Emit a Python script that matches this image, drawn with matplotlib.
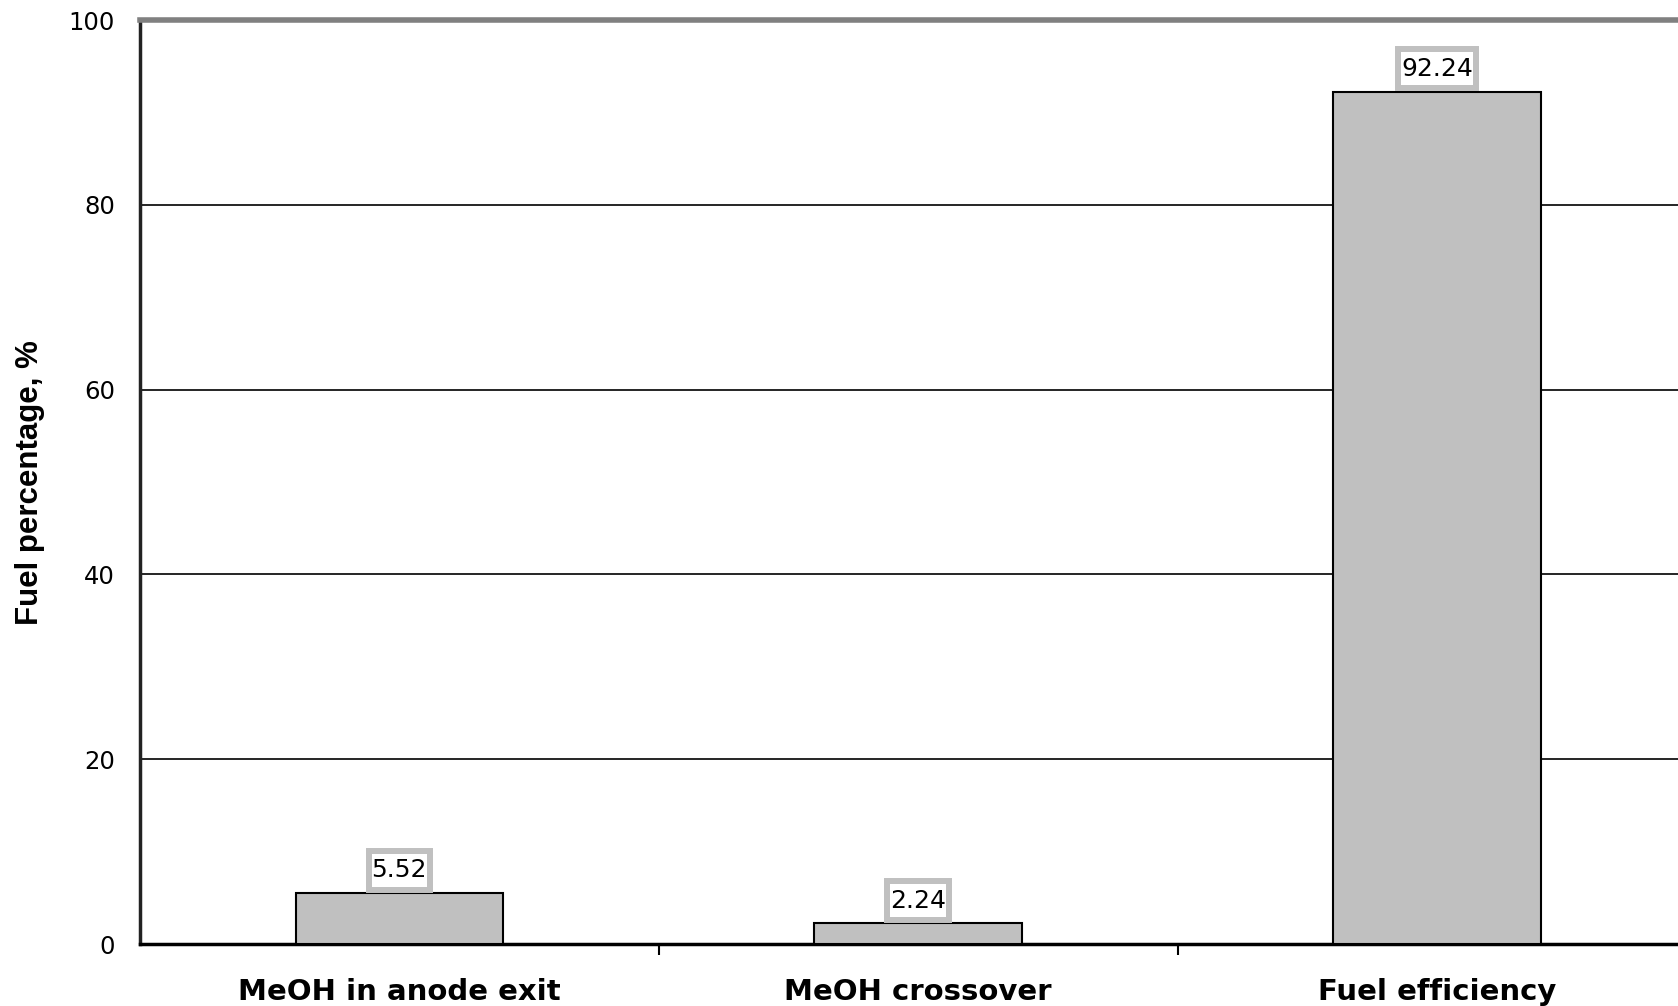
from matplotlib import pyplot as plt
from matplotlib.path import Path
import numpy as np

categories = ['MeOH in anode exit', 'MeOH crossover', 'Fuel efficiency']
values = [5.52, 2.24, 92.24]
value_labels = ['5.52', '2.24', '92.24']
y_ticks = [0, 20, 40, 60, 80, 100]

plt.rcParams['font.family'] = ['DejaVu Sans']


def label_box(x0, y0, width, height, mutation_size):
    # narrow side padding, taller top/bottom padding like the original labels
    px = 0.12 * mutation_size
    py = 0.3 * mutation_size
    x0, y0 = x0 - px, y0 - py
    x1, y1 = x0 + width + 2 * px, y0 + height + 2 * py
    return Path([(x0, y0), (x1, y0), (x1, y1), (x0, y1), (x0, y0)], closed=True)


fig = plt.figure(figsize=(16.78, 10.06), dpi=100)
ax = fig.add_axes([0.0834, 0.0616, 1.011 - 0.0834, 0.980 - 0.0616])

x = np.arange(len(categories))
ax.bar(x, values, width=0.4, color='#c0c0c0', edgecolor='black', linewidth=1.5, zorder=3)

# value labels in grey-framed boxes sitting on the bar tops
for xi, v, lab in zip(x, values, value_labels):
    ax.annotate(lab, (xi, v), xytext=(0, 7.8), textcoords='offset points',
                ha='center', va='bottom', fontsize=18, zorder=4,
                bbox=dict(boxstyle=label_box, facecolor='white',
                          edgecolor='#c0c0c0', linewidth=4.3))

ax.set_xlim(-0.5, 2.5)
ax.set_ylim(0, 100)
ax.set_yticks(y_ticks)
ax.tick_params(axis='y', length=0, labelsize=17.5, pad=18)
ax.yaxis.grid(True, color='black', linewidth=1.2, zorder=0)

# x ticks sit between categories, labels centred under bars
ax.set_xticks([0.5, 1.5])
ax.set_xticklabels([])
ax.tick_params(axis='x', length=8, width=1.5, direction='out', color='black')
for xi, cat in zip(x, categories):
    ax.text(xi, -6.05, cat, ha='center', va='baseline', fontsize=21, fontweight='bold',
            clip_on=False)

ax.set_ylabel('Fuel percentage, %', fontsize=22.5, fontweight='bold',
              family=['Liberation Sans', 'DejaVu Sans'])
ax.yaxis.set_label_coords(-0.061, 0.5)

ax.spines['left'].set_linewidth(2.5)
ax.spines['left'].set_color('#222222')
ax.spines['bottom'].set_linewidth(2.5)
ax.spines['bottom'].set_color('black')
ax.spines['top'].set_linewidth(4)
ax.spines['top'].set_color('#808080')
ax.spines['right'].set_visible(False)

fig.savefig('out.png', dpi=100)
